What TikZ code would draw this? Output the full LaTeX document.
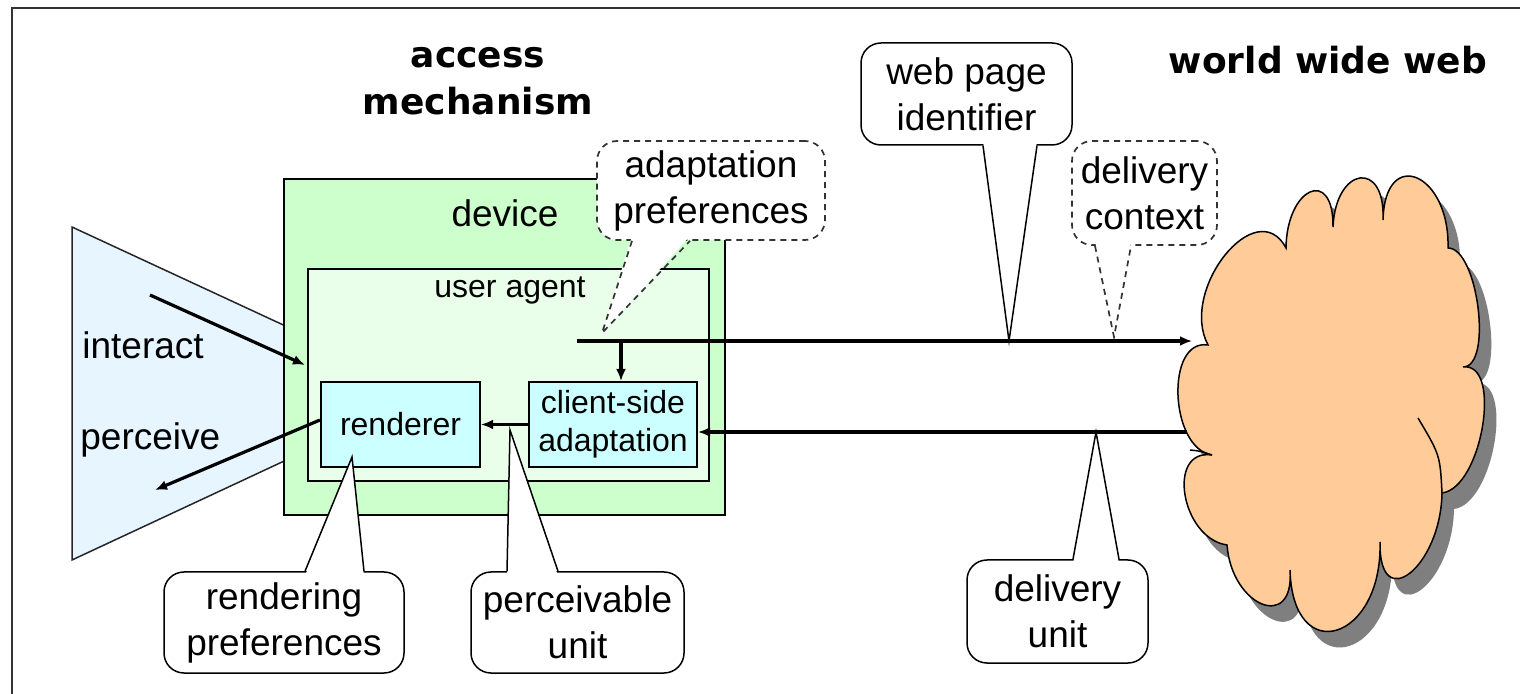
\documentclass[tikz,border=0pt]{standalone}
\usepackage{fontspec}
\setmainfont{Liberation Sans}
\newfontfamily\titlefont{DejaVu Sans}
\usetikzlibrary{arrows.meta,calc}
\definecolor{devc}{HTML}{CCFFCC}
\definecolor{uac}{HTML}{E9FFE9}
\definecolor{boxc}{HTML}{CCFFFF}
\definecolor{tric}{HTML}{E6F5FF}
\definecolor{cloudc}{HTML}{FFCC99}
\definecolor{shadowc}{HTML}{7F7F7F}
\newcommand\mainsz{\fontsize{18.5}{23}\selectfont}
\newcommand\smallsz{\fontsize{16}{19}\selectfont}
\newcommand\titlesz{\titlefont\bfseries\fontsize{18}{23.5}\selectfont}
\begin{document}
\begin{tikzpicture}[x=0.5pt,y=-0.5pt,
  lbl/.style={inner sep=0pt, align=center, font=\mainsz},
  slbl/.style={inner sep=0pt, align=center, font=\smallsz},
  ttl/.style={inner sep=0pt, align=center, font=\titlesz},
  callout/.style={draw, line width=0.75pt, fill=white, rounded corners=10pt, align=center, inner sep=0pt, font=\mainsz},
  dcallout/.style={callout, draw=black!80, line width=0.85pt, dash pattern=on 3pt off 2.5pt},
  ptr/.style={line width=0.75pt},
  dptr/.style={line width=0.85pt, draw=black!80, dash pattern=on 3pt off 2.5pt},
  boxx/.style={draw, line width=1pt, inner sep=0pt},
  flow/.style={line width=1.6pt, -{Latex[length=6pt,width=5pt]}},
  cloudline/.style={line width=0.75pt},
]
\useasboundingbox (0,0) rectangle (1520,694);
\fill[white] (0,0) rectangle (1520,694);
% frame
\draw[line width=1pt, black!80] (12,720) -- (12,8) -- (1540,8);

% titles
\node[ttl] (t1) at (478,81) {access\\mechanism};
\node[ttl] (t2) at (1328,60) {world wide web};

% person side (trapezoid)
\filldraw[fill=tric, draw=black!85, line width=0.75pt] (72,227) -- (430,393) -- (72,560) -- cycle;

% device and user agent
\node[boxx, fill=devc, minimum width=220.5pt, minimum height=168pt] (dev) at (504.5,347) {};
\node[lbl] (devl) at (505,213) {device};
\node[boxx, fill=uac, minimum width=200.5pt, minimum height=106pt] (ua) at (508.5,375) {};
\node[slbl] (ual) at (510,290) {user agent};
\node[boxx, fill=boxc, minimum width=79.5pt, minimum height=42.5pt, font=\smallsz] (ren) at (400.5,424.5) {renderer};
\node[boxx, fill=boxc, minimum width=84pt, minimum height=42.5pt, align=center, font=\smallsz] (cad) at (613,424.5) {client-side\\adaptation};

\node[lbl, anchor=west] (il) at (82,345) {interact};
\node[lbl, anchor=west] (pl) at (80,440) {perceive};

% cloud (world wide web) with shadow
\begin{scope}[shift={(12,16)}]
\fill[shadowc]
 (1286,248) .. controls (1286.7,187.3) and (1333.7,166.3) .. (1333,227)
 .. controls (1335.7,166.3) and (1385.7,159.3) .. (1383,220)
 .. controls (1385,145.3) and (1450,173.3) .. (1448,248)
 .. controls (1478,248) and (1493,367) .. (1463,367)
 .. controls (1503,362) and (1482,488) .. (1442,493)
 .. controls (1440.7,567) and (1378.7,616) .. (1380,542)
 .. controls (1382.7,640.7) and (1292.7,668.7) .. (1290,570)
 .. controls (1294.7,632) and (1231.7,607) .. (1227,545)
 .. controls (1181,538.3) and (1166,448.3) .. (1212,455)
 .. controls (1169.3,448.3) and (1165.3,338.3) .. (1208,345)
 .. controls (1178.7,289.7) and (1256.7,192.7) .. (1286,248) -- cycle;
\end{scope}
\filldraw[fill=cloudc, cloudline]
 (1286,248) .. controls (1286.7,187.3) and (1333.7,166.3) .. (1333,227)
 .. controls (1335.7,166.3) and (1385.7,159.3) .. (1383,220)
 .. controls (1385,145.3) and (1450,173.3) .. (1448,248)
 .. controls (1478,248) and (1493,367) .. (1463,367)
 .. controls (1503,362) and (1482,488) .. (1442,493)
 .. controls (1440.7,567) and (1378.7,616) .. (1380,542)
 .. controls (1382.7,640.7) and (1292.7,668.7) .. (1290,570)
 .. controls (1294.7,632) and (1231.7,607) .. (1227,545)
 .. controls (1181,538.3) and (1166,448.3) .. (1212,455)
 .. controls (1169.3,448.3) and (1165.3,338.3) .. (1208,345)
 .. controls (1178.7,289.7) and (1256.7,192.7) .. (1286,248) -- cycle;
\draw[cloudline] (1442,493) .. controls (1440,455) .. (1418,418);
\draw[cloudline] (1212,455) .. controls (1200,451) .. (1190,450);

% callouts
\node[dcallout, minimum width=114pt, minimum height=49.5pt] (adp) at (711,190.5) {adaptation\\preferences};
\fill[white] (632,236) -- (602,333) -- (690,236) -- cycle;
\draw[dptr] (632,0 |- adp.south) -- (602,333) -- (690,0 |- adp.south);

\node[callout, minimum width=105.5pt, minimum height=51pt] (wpi) at (966.5,94) {web page\\identifier};
\fill[white] (983,141) -- (1009,341) -- (1037,141) -- cycle;
\draw[ptr] (983,0 |- wpi.south) -- (1009,341) -- (1037,0 |- wpi.south);

\node[dcallout, minimum width=72.5pt, minimum height=52pt] (dctx) at (1144.5,193) {delivery\\context};
\fill[white] (1095,241) -- (1114,337) -- (1131,241) -- cycle;
\draw[dptr] (1095,0 |- dctx.south) -- (1114,337) -- (1131,0 |- dctx.south);

\node[callout, minimum width=90.5pt, minimum height=51.5pt] (dunit) at (1057.5,611.5) {delivery\\unit};
\fill[white] (1073,564) -- (1096,432) -- (1119,564) -- cycle;
\draw[ptr] (1073,0 |- dunit.north) -- (1096,432) -- (1119,0 |- dunit.north);

\node[callout, minimum width=106.5pt, minimum height=50.5pt] (punit) at (577.5,622.5) {perceivable\\unit};
\fill[white] (507,576) -- (510,430) -- (558,576) -- cycle;
\draw[ptr] (507,0 |- punit.north) -- (510,430) -- (558,0 |- punit.north);

\node[callout, minimum width=120pt, minimum height=50.5pt] (rpref) at (284,622.5) {rendering\\preferences};
\fill[white] (305,576) -- (352,457) -- (364,576) -- cycle;
\draw[ptr] (305,0 |- rpref.north) -- (352,457) -- (364,0 |- rpref.north);

% connectors
\coordinate (ts) at (577,341);
\coordinate (bp) at (621,341);
\coordinate (wIn) at (1192,341);
\coordinate (wOut) at (1187,432);
\coordinate (ia) at (150,295);
\coordinate (ib) at (305,365);
\coordinate (pv) at (155,490);
\draw[line width=1.6pt] (ts) -- (bp);
\draw[flow] (bp) -- (wIn);
\draw[flow] (bp) -- (bp |- cad.north);
\draw[flow] (wOut) -- (cad.east |- wOut);
\draw[flow] (cad.west) -- (ren.east);
\draw[flow] (ia) -- (ib);
\draw[flow] (ren.west |- 0,420) -- (pv);
\end{tikzpicture}
\end{document}
